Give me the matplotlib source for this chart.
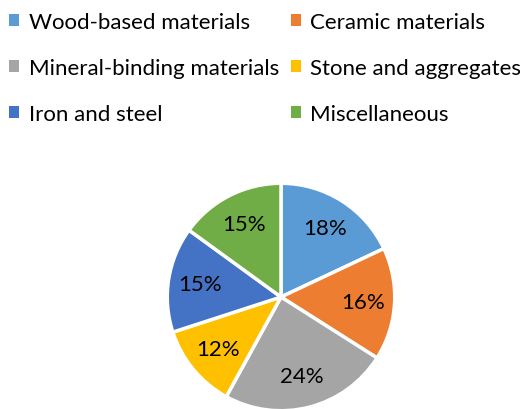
import matplotlib
matplotlib.use("Agg")
import matplotlib.pyplot as plt
from matplotlib.patches import Patch

plt.rcParams['font.family'] = ['Lato', 'DejaVu Sans']

categories = ["Wood-based materials", "Ceramic materials",
              "Mineral-binding materials", "Stone and aggregates",
              "Iron and steel", "Miscellaneous"]
shares = [18, 16, 24, 12, 15, 15]
colors = ["#5B9BD5", "#ED7D31", "#A5A5A5", "#FFC000", "#4472C4", "#70AD47"]

fig = plt.figure(figsize=(5.2, 4.1), dpi=100)

# pie axes: centre ~ (281, 298) px, radius ~116 px
ax = fig.add_axes([165 / 520, -4 / 410, 232 / 520, 232 / 410])
ax.pie(shares, colors=colors, startangle=90, counterclock=False,
       autopct='%1.0f%%', pctdistance=0.72, radius=1.0,
       wedgeprops=dict(edgecolor='white', linewidth=2.5),
       textprops=dict(fontsize=16, color='black'))
ax.set_xlim(-1.02, 1.02)
ax.set_ylim(-1.02, 1.02)
ax.axis('off')

# legend is filled row by row in the reference, matplotlib fills by column
handles = [Patch(facecolor=c, edgecolor='none') for c in colors]
order = [0, 2, 4, 1, 3, 5]
fig.legend([handles[i] for i in order], [categories[i] for i in order],
           ncol=2, loc='upper left',
           bbox_to_anchor=(-0.012, 1.006), frameon=False, fontsize=16,
           handlelength=0.45, handleheight=0.45, handletextpad=0.42,
           columnspacing=0.55, labelspacing=1.17, borderaxespad=0.3)

fig.savefig("out.png", dpi=100)
